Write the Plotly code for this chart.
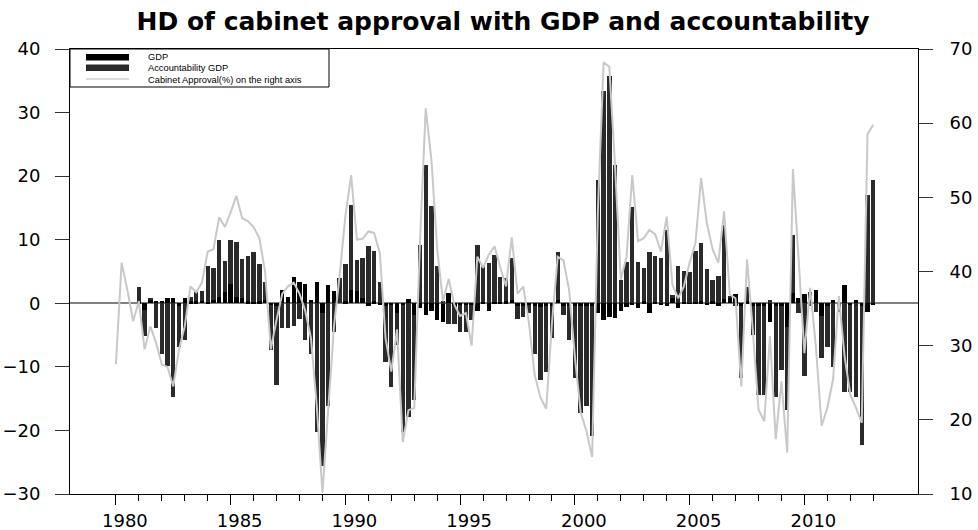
import plotly.graph_objects as go

# Quarterly cabinet approval (%), 1980Q1 - 2013Q1, right axis
approval = [
    27.5, 41.2, 37.5, 33.3, 36.0, 29.5, 32.6, 30.4, 27.5, 27.1, 24.5, 29.5,
    32.6, 38.0, 37.2, 38.5, 42.7, 43.0, 47.3, 46.0, 48.0, 50.2, 47.2, 46.8,
    46.0, 44.5, 40.0, 29.5, 33.5, 37.0, 38.0, 38.5, 37.0, 34.7, 31.0, 22.0,
    10.2, 21.0, 32.5, 39.5, 47.5, 53.0, 44.3, 44.4, 45.4, 45.2, 42.5, 31.0,
    26.5, 32.2, 17.0, 21.3, 21.6, 44.0, 62.0, 55.0, 43.0, 36.0, 39.0, 35.5,
    34.0, 34.4, 30.0, 42.0, 40.5, 42.3, 43.4, 40.5, 38.0, 44.6, 37.0, 38.0,
    33.0, 26.0, 23.0, 21.5, 33.0, 42.0, 41.5, 37.5, 28.5, 21.0, 18.5, 15.0,
    48.0, 68.2, 67.6, 54.2, 38.9, 42.0, 53.0, 44.1, 44.5, 45.6, 45.0, 42.7,
    47.4, 38.2, 36.4, 38.0, 41.2, 43.8, 52.6, 46.5, 43.0, 41.2, 48.1, 36.9,
    36.4, 24.5, 41.6, 32.2, 21.4, 19.8, 31.3, 17.4, 25.2, 15.6, 53.8, 41.6,
    29.0, 37.8, 29.9, 19.2, 21.6, 25.5, 36.7, 28.6, 23.4, 21.6, 19.6, 58.5,
    59.8,
]

# Historical decomposition contributions, 1981Q1 - 2013Q1, left axis
gdp = [
    0.2, -1.0, 0.6, 0.3, 0.3, 0.8, 0.9, -0.5, 0.9, 0.3, 0.3, 0.4,
    0.2, 0.5, 1.0, 1.8, 3.1, 1.0, 0.8, 0.3, 0.2, 0.3, 0.5, -0.3,
    -0.5, 2.1, 1.0, 4.1, 3.4, 3.0, 0.5, 3.3, -1.5, 2.9, 1.9, 0.0,
    0.3, 2.1, 2.0, 0.8, -0.5, 0.3, -0.3, -0.5, -0.3, -1.6, -0.3, 0.6,
    -1.8, -0.8, -1.8, -1.2, -2.6, -2.9, 1.6, -0.5, -0.3, -0.3, -0.2, -1.2,
    0.2, -1.2, 0.2, 0.2, 0.3, 0.5, -0.5, -0.4, -0.3, -0.5, -0.6, -0.5,
    -0.4, 0.5, -0.4, -0.5, -0.4, -0.5, -0.4, -0.5, -1.6, -2.6, -2.1, -2.3,
    -1.2, -0.6, -0.3, -0.8, 0.3, -1.5, 0.2, -0.3, -0.4, 0.8, -0.8, 0.2,
    0.1, 0.2, 0.3, -0.3, 0.3, -0.4, 0.6, 0.8, 1.4, -0.5, 0.3, -0.5,
    -0.5, -0.5, -3.0, -0.5, -0.5, -3.8, 1.6, 0.8, 1.5, 1.7, 2.1, -2.0,
    -0.5, 0.5, -0.3, 2.9, -0.3, 0.5, -0.5, -1.3, -0.3,
]
accountability = [
    2.4, -4.2, 0.2, -3.9, -8.0, -9.8, -14.7, -6.3, -5.8, 0.7, 1.5, 1.5,
    5.6, 5.1, 8.9, 4.8, 6.8, 8.6, 6.2, 7.1, 7.9, 5.9, 2.8, -7.1,
    -12.3, -3.9, -3.9, -3.6, -2.5, -5.8, -8.0, -20.2, -24.1, -16.1, -4.5, 4.0,
    5.9, 13.3, 4.8, 6.4, 9.0, 7.9, 3.4, -8.7, -12.8, -4.9, -19.9, -17.9,
    -13.4, 9.2, 21.7, 15.3, 5.8, 0.3, -3.3, -2.7, -4.2, -4.2, -2.5, 9.2,
    5.6, 6.3, 7.4, 4.0, 3.7, 6.7, -2.0, -1.8, -1.2, -7.4, -11.5, -10.3,
    -5.0, 7.6, -1.5, -5.2, -11.4, -16.7, -15.8, -20.4, 19.4, 33.4, 35.7, 21.7,
    3.7, 6.5, 15.2, 6.5, 5.2, 8.0, 7.3, 7.1, 11.5, 0.5, 5.8, 4.9,
    4.9, 8.0, 9.2, 5.4, 3.4, 4.3, 11.7, 0.4, -0.5, -11.2, 2.2, -4.5,
    -13.9, -13.9, 0.5, -14.2, -10.0, -13.0, 9.1, -1.6, -11.4, -0.5, -1.3, -6.6,
    -6.4, -10.1, -1.0, -14.0, -13.7, -14.8, -21.8, 17.0, 19.4,
]

year_ticks = [1980, 1985, 1990, 1995, 2000, 2005, 2010]
left_ticks = [-30, -20, -10, 0, 10, 20, 30, 40]
right_ticks = [10, 20, 30, 40, 50, 60, 70]

t_line = [1980 + i / 4 for i in range(len(approval))]
t_bar = [1981 + i / 4 for i in range(len(gdp))]

FONT = "DejaVu Sans"

fig = go.Figure()
fig.add_trace(go.Bar(x=t_bar, y=gdp, width=0.19, marker=dict(color="#000000", line=dict(width=0)),
                     name="GDP", showlegend=False))
fig.add_trace(go.Bar(x=t_bar, y=accountability, width=0.19, marker=dict(color="#2a2a2a", line=dict(width=0)),
                     name="Accountability GDP", showlegend=False))
fig.add_trace(go.Scatter(x=t_line, y=approval, yaxis="y2", mode="lines",
                         line=dict(color="#c8c8c8", width=2),
                         name="Cabinet Approval(%) on the right axis", showlegend=False))

W, H = 978, 530
L, R, T, B = 70, 60, 49, 36
pw, ph = W - L - R, H - T - B


def px(x):
    return (x - L) / pw


def py(y):
    return 1 - (y - T) / ph


shapes = [
    # legend box
    dict(type="rect", xref="paper", yref="paper", x0=px(70), x1=px(329), y0=py(87), y1=py(49),
         line=dict(color="black", width=1), fillcolor="white", layer="above"),
    dict(type="rect", xref="paper", yref="paper", x0=px(86), x1=px(129), y0=py(60.5), y1=py(54),
         line=dict(width=0), fillcolor="#000000", layer="above"),
    dict(type="rect", xref="paper", yref="paper", x0=px(86), x1=px(129), y0=py(71), y1=py(64.5),
         line=dict(width=0), fillcolor="#2a2a2a", layer="above"),
    dict(type="line", xref="paper", yref="paper", x0=px(86), x1=px(129), y0=py(79), y1=py(79),
         line=dict(color="#d0d0d0", width=1.5), layer="above"),
]
legend_labels = ["GDP", "Accountability GDP", "Cabinet Approval(%) on the right axis"]
legend_y = [57.2, 68.5, 79.5]
annotations = [
    dict(text=lab, xref="paper", yref="paper", x=px(146), y=py(yy), xanchor="left", yanchor="middle",
         showarrow=False, font=dict(family="Liberation Sans", size=9.3, color="black"))
    for lab, yy in zip(legend_labels, legend_y)
]

fig.update_layout(
    width=W, height=H,
    margin=dict(l=L, r=R, t=T, b=B, pad=0, autoexpand=False),
    paper_bgcolor="white", plot_bgcolor="white",
    barmode="relative", bargap=0,
    title=dict(text="<b>HD of cabinet approval with GDP and accountability</b>",
               x=503 / W, xanchor="center", xref="container", y=1 - 21 / H, yanchor="middle",
               yref="container", automargin=False,
               font=dict(family=FONT, size=25, color="black")),
    xaxis=dict(range=[1978.0, 2014.95], tickmode="array", tickvals=year_ticks,
               ticktext=[str(y) for y in year_ticks], ticks="outside", ticklen=10, tickwidth=1,
               tickcolor="black", showline=True, linecolor="black", linewidth=1, mirror=True,
               showgrid=False, zeroline=False, ticklabelshift=9,
               automargin=False,
               minor=dict(tickmode="array", tickvals=list(range(1980, 2014)), ticks="outside",
                          ticklen=6, tickwidth=1, tickcolor="black", showgrid=False),
               tickfont=dict(family=FONT, size=18, color="black")),
    yaxis=dict(range=[-30, 40], tickmode="array", tickvals=left_ticks, ticks="outside",
               ticklen=14, tickwidth=1, tickcolor="#333333", showline=True, linecolor="black",
               linewidth=1, showgrid=False, zeroline=True, zerolinecolor="#808080", zerolinewidth=2,
               ticklabelstandoff=11, automargin=False,
               tickfont=dict(family=FONT, size=18, color="black")),
    yaxis2=dict(range=[10, 70], tickmode="array", tickvals=right_ticks, overlaying="y", side="right",
                ticks="outside", ticklen=14, tickwidth=1, tickcolor="#333333", showline=True,
                linecolor="black", linewidth=1, showgrid=False, zeroline=False,
                ticklabelstandoff=13, automargin=False,
                tickfont=dict(family=FONT, size=18, color="black")),
    shapes=shapes,
    annotations=annotations,
)

fig.write_html("out.html")
